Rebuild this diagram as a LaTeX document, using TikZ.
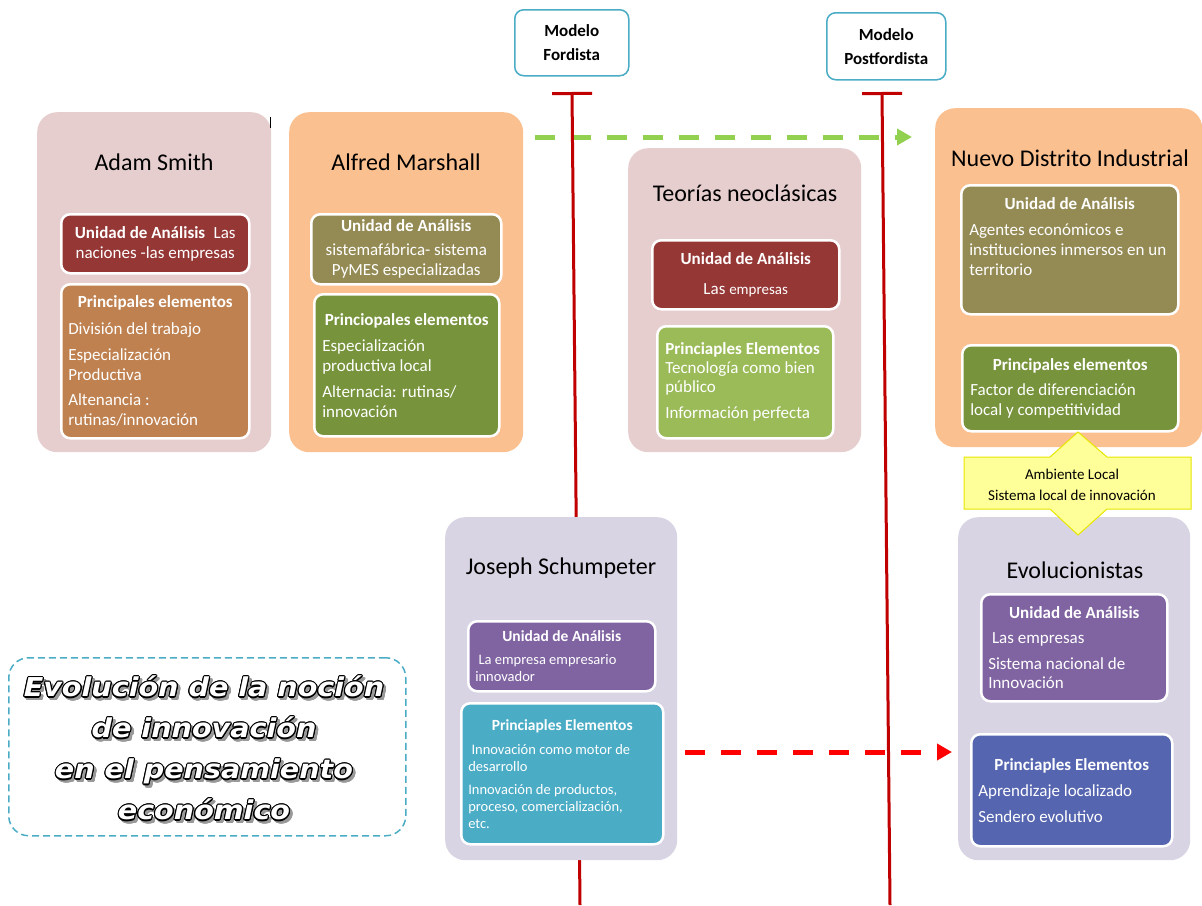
\documentclass[tikz,border=0pt]{standalone}
\usepackage{fontspec}
\setmainfont{Carlito}
\newfontfamily\titlefont[FakeStretch=1.1]{DejaVu Sans}
\usepackage{contour}
\contourlength{1.1pt}
\usepackage{xcolor}
\usepackage{tikz}
\usetikzlibrary{positioning,backgrounds,arrows.meta}

\definecolor{rosa}{HTML}{E6CECF}
\definecolor{durazno}{HTML}{FAC090}
\definecolor{lila}{HTML}{D9D4E3}
\definecolor{rojoosc}{HTML}{953735}
\definecolor{oliva}{HTML}{948A54}
\definecolor{verde}{HTML}{77933C}
\definecolor{verdecl}{HTML}{9BBB59}
\definecolor{marron}{HTML}{BF8150}
\definecolor{morado}{HTML}{8064A2}
\definecolor{turquesa}{HTML}{4BACC6}
\definecolor{azul}{HTML}{5565B0}
\definecolor{lineared}{HTML}{C00000}
\definecolor{flechaverde}{HTML}{92D050}
\definecolor{amarillo}{HTML}{FFFF99}
\definecolor{amarilloborde}{HTML}{E6E600}

% outlined title text with a soft shadow
\newcommand{\outl}[1]{\leavevmode\rlap{\hspace{2.5pt}\raisebox{-2.5pt}{\textcolor{black!40}{\contour{black!40}{#1}}}}\textcolor{white}{\contour{black}{#1}}}

\begin{document}
\begin{tikzpicture}[x=1pt, y=-1pt,
    outer/.style={rectangle, rounded corners=20, anchor=north west, inner sep=0},
    ttl/.style={font=\fontsize{24}{28}\selectfont, text=black},
    ibox/.style={rectangle, rounded corners=9, draw=white, line width=2.5, anchor=north west, text=white, inner xsep=8, inner ysep=2, font=\fontsize{17}{20}\selectfont},
    sbox/.style={ibox, inner xsep=7, font=\fontsize{14.5}{17}\selectfont},
    modelo/.style={rectangle, rounded corners=9, draw=turquesa, line width=1.5, fill=white, anchor=north west, align=flush center, font=\fontsize{17}{24}\selectfont\bfseries},
    redline/.style={draw=lineared, line width=3, {Bar[width=40pt]}-},
    garrow/.style={draw=flechaverde, line width=5, dash pattern=on 20pt off 16pt, -{Triangle[length=15pt,width=16pt]}},
    rarrow/.style={draw=red, line width=5, dash pattern=on 20pt off 16pt, -{Triangle[length=15pt,width=16pt]}}
]
\useasboundingbox (0,0) rectangle (1202,905);

% Modelos (top)
\node[modelo, minimum width=114, minimum height=66] (fordista) at (514,9) {Modelo\\Fordista};
\node[modelo, minimum width=119, minimum height=67] (postfordista) at (826,12) {Modelo\\Postfordista};
\coordinate (fordTop) at (572,92);
\coordinate (fordBot) at (580,905);
\coordinate (postTop) at (882,92);
\coordinate (postBot) at (890,905);

% Adam Smith
\node[outer, fill=rosa, minimum width=234, minimum height=340] (smith) at (37,112) {};
\node[ttl] (smithT) at (154,162) {Adam Smith};
\node[ibox, fill=rojoosc, minimum width=188, minimum height=59, text width=172, align=flush center] (smithU) at (60,213) {\textbf{Unidad de Análisis}\enspace Las\\naciones -las empresas};
\node[ibox, fill=marron, minimum width=188, minimum height=154, text width=174, inner xsep=7, align=flush left] (smithP) at (60,283) {\makebox[\hsize]{\textbf{Principales elementos}}\\[7pt] División del trabajo\\[6pt] Especialización\\ Productiva\\[5pt] Altenancia :\\ rutinas/innovación};
\draw[line width=1] (270,117) -- (270,128);

% Alfred Marshall
\node[outer, fill=durazno, minimum width=234, minimum height=340] (marshall) at (289,112) {};
\node[ttl] (marshallT) at (406,162) {Alfred Marshall};
\node[ibox, fill=oliva, minimum width=190, minimum height=70, text width=174, align=flush center] (marshallU) at (310,213) {\textbf{Unidad de Análisis}\\[4pt] sistemafábrica- sistema\\ PyMES especializadas};
\node[ibox, fill=verde, minimum width=185, minimum height=142, text width=169, align=flush left] (marshallP) at (313,293) {\makebox[\hsize]{\textbf{Princiopales elementos}}\\[6pt] Especialización\\ productiva local\\[6pt] Alternacia: rutinas/\\ innovación};

% Teorias neoclasicas
\node[outer, fill=rosa, minimum width=233, minimum height=304] (neo) at (628,148) {};
\node[ttl] (neoT) at (745,193) {Teorías neoclásicas};
\node[ibox, fill=rojoosc, minimum width=187, minimum height=69, text width=171, align=flush center] (neoU) at (651,239) {\textbf{Unidad de Análisis}\\[10pt] Las {\fontsize{15}{20}\selectfont empresas}};
\node[ibox, fill=verdecl, minimum width=176, minimum height=112, text width=160, align=flush left, font=\fontsize{17}{19}\selectfont] (neoP) at (656,325) {\textbf{Princiaples Elementos}\\ Tecnología como bien\\ público\\[7pt] Información perfecta};

% Nuevo Distrito Industrial
\node[outer, fill=durazno, minimum width=267, minimum height=339] (nuevo) at (935,108) {};
\node[ttl] (nuevoT) at (1070,158) {Nuevo Distrito Industrial};
\node[ibox, fill=oliva, minimum width=217, minimum height=129, text width=205, inner xsep=6, align=flush left] (nuevoU) at (960,184) {\makebox[\hsize]{\textbf{Unidad de Análisis}}\\[6pt] \hspace*{2pt}Agentes económicos e\\ \hspace*{2pt}instituciones inmersos en un\\ \hspace*{2pt}territorio\\[6pt]\mbox{}};
\node[ibox, fill=verde, minimum width=216, minimum height=86, text width=200, align=flush left] (nuevoP) at (961,344) {\makebox[\hsize]{\textbf{Principales elementos}}\\[5pt] Factor de diferenciación\\ local y competitividad};

% Joseph Schumpeter
\node[outer, fill=lila, minimum width=232, minimum height=343] (schump) at (445,517) {};
\node[ttl] (schumpT) at (561,568) {Joseph Schumpeter};
\node[sbox, fill=morado, minimum width=187, minimum height=70, text width=173, align=flush left] (schumpU) at (467,620) {\makebox[\hsize]{\fontsize{15.5}{17}\selectfont\bfseries Unidad de Análisis}\\[6pt] \ La empresa empresario\\ innovador};
\node[sbox, fill=turquesa, minimum width=202, minimum height=141, text width=188, align=flush left] (schumpP) at (460,702) {\makebox[\hsize]{\fontsize{15.5}{17}\selectfont\bfseries Princiaples Elementos}\\[7pt] \ Innovación como motor de\\ desarrollo\\[6pt] Innovación de productos,\\ proceso, comercialización,\\ etc.};

% Evolucionistas
\node[outer, fill=lila, minimum width=232, minimum height=343] (evol) at (958,517) {};
\node[ttl] (evolT) at (1075,570) {Evolucionistas};
\node[ibox, fill=morado, minimum width=186, minimum height=107, text width=172, inner xsep=7, align=flush left, font=\fontsize{17}{19.5}\selectfont] (evolU) at (980,593) {\makebox[\hsize]{\textbf{Unidad de Análisis}}\\[6pt] \ Las empresas\\[6pt] Sistema nacional de\\ Innovación};
\node[ibox, fill=azul, minimum width=201, minimum height=112, text width=187, inner xsep=7, align=flush left] (evolP) at (970,733) {\makebox[\hsize]{\textbf{Princiaples Elementos}}\\[6pt] Aprendizaje localizado\\[6pt] Sendero evolutivo};

% Ambiente local
\coordinate (amb) at (1077,483);
\draw[fill=amarillo, draw=amarilloborde, line width=1] (amb) ++(-113,-26) -- ++(86,0) -- ++(28,-25) -- ++(29,25) -- ++(84,0) -- ++(0,52) -- ++(-84,0) -- ++(-29,26) -- ++(-28,-26) -- ++(-86,0) -- cycle;
\node[font=\fontsize{15}{21}\selectfont, align=flush center] (ambiente) at (1072,485) {Ambiente Local\\Sistema local de innovación};

% Title box
\node[draw=turquesa, line width=1.5, dash pattern=on 7pt off 4pt, rounded corners=20, minimum width=397, minimum height=178, anchor=north west] (titlebox) at (8,657) {};
\node[align=center, font=\titlefont\bfseries\itshape\fontsize{26}{41}\selectfont] (titulo) at (204,750) {\outl{Evolución de la noción}\\\outl{de innovación}\\\outl{en el pensamiento}\\\outl{económico}};

% connectors behind the boxes
\begin{scope}[on background layer]
\draw[garrow, shorten <=12pt, shorten >=23pt] (marshall.east |- 0,137) -- (nuevo.west |- 0,137);
\draw[rarrow, shorten <=8pt, shorten >=6pt] (schump.east |- 0,752) -- (evol.west |- 0,752);
\draw[redline] (fordTop) -- (fordBot);
\draw[redline] (postTop) -- (postBot);
\end{scope}

\end{tikzpicture}
\end{document}
